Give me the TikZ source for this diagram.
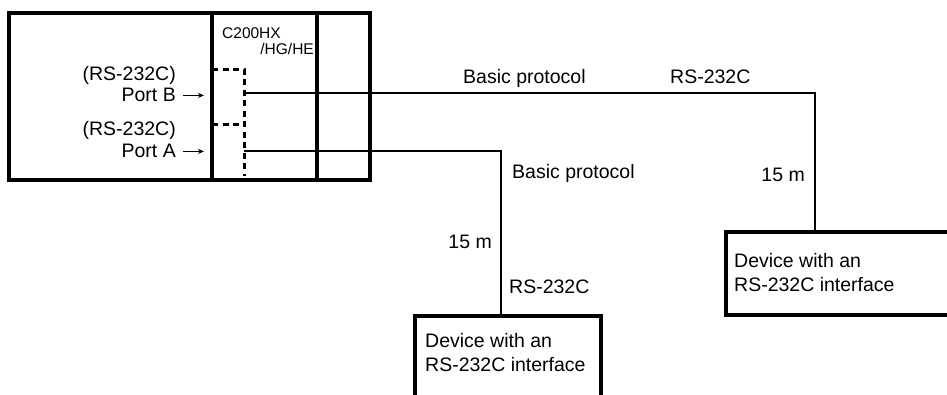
\documentclass[tikz,border=0pt]{standalone}
\usepackage{fontspec}
\setmainfont{Liberation Sans}
\usetikzlibrary{arrows.meta}
\usetikzlibrary{positioning,calc}
\tikzset{>=Stealth}
\tikzstyle{unit}   = [line width=3.6pt]
\tikzstyle{cable}  = [line width=1.5pt]
\tikzstyle{link}   = [line width=3pt, dash pattern=on 6pt off 4.5pt]
\tikzstyle{lbl}    = [font=\fontsize{19.5}{24}\selectfont, inner sep=0pt]
\tikzstyle{model}  = [font=\fontsize{15.5}{18}\selectfont, inner sep=0pt]
\tikzstyle{device} = [draw, line width=3.6pt, anchor=north west, inner sep=0pt]
\tikzstyle{devtxt} = [lbl, align=left, anchor=north west]

\begin{document}
\begin{tikzpicture}[x=1pt,y=-1pt]
    \useasboundingbox (0,0) rectangle (947,394);
    \clip (0,0) rectangle (947,394);

    % PC unit with its two card slots
    \draw[unit] (9,13) rectangle (370,180);
    \draw[unit] (212,13) -- (212,180);
    \draw[unit] (317,13) -- (317,180);
    \node[model, anchor=base west] (cpu)   at (222,38) {C200HX};
    \node[model, anchor=base east] (cpusub) at (314,54) {/HG/HE};

    % port labels
    \node[lbl, anchor=base east] (rsB)   at (176,80)  {(RS-232C)};
    \node[lbl, anchor=base east] (portBlbl) at (176,101) {Port B};
    \node[lbl, anchor=base east] (rsA)   at (176,135) {(RS-232C)};
    \node[lbl, anchor=base east] (portAlbl) at (176,157) {Port A};
    \draw[line width=1.2pt, -{Stealth[length=6pt,width=5pt]}] ($(portBlbl.east)+(7,1)$) -- ++(21,0);
    \draw[line width=1.2pt, -{Stealth[length=6pt,width=5pt]}] ($(portAlbl.east)+(7,1)$) -- ++(21,0);

    % internal wiring of the ports
    \coordinate (jackB) at (212,69);
    \coordinate (jackA) at (212,124);
    \coordinate (portB) at (244,93);
    \coordinate (portA) at (244,151);
    \draw[link] (jackB) -- (244,69) -- (244,176);
    \draw[link] (jackA) -- (244,124);

    % the two devices
    \node[device, minimum width=186, minimum height=84] (devA) at (413,314) {};
    \node[devtxt] (devAtxt) at (425,333) {Device with an\\RS-232C interface};
    \node[device, minimum width=260, minimum height=83] (devB) at (724,230) {};
    \node[devtxt] (devBtxt) at (734,253) {Device with an\\RS-232C interface};

    % cables
    \coordinate (turnB) at (815,93);
    \coordinate (turnA) at (501,151);
    \draw[cable] (portB) -- (turnB) -- (turnB |- devB.north);
    \draw[cable] (portA) -- (turnA) -- (turnA |- devA.north);

    % cable notes
    \node[lbl, anchor=base west] (protoB) at (463,83)  {Basic protocol};
    \node[lbl, anchor=base west] (ifB)    at (670,83)  {RS-232C};
    \node[lbl, anchor=base east] (lenB)   at (805,181) {15 m};
    \node[lbl, anchor=base west] (protoA) at (512,178) {Basic protocol};
    \node[lbl, anchor=base east] (lenA)   at (492,248) {15 m};
    \node[lbl, anchor=base west] (ifA)    at (509,293) {RS-232C};
\end{tikzpicture}
\end{document}
